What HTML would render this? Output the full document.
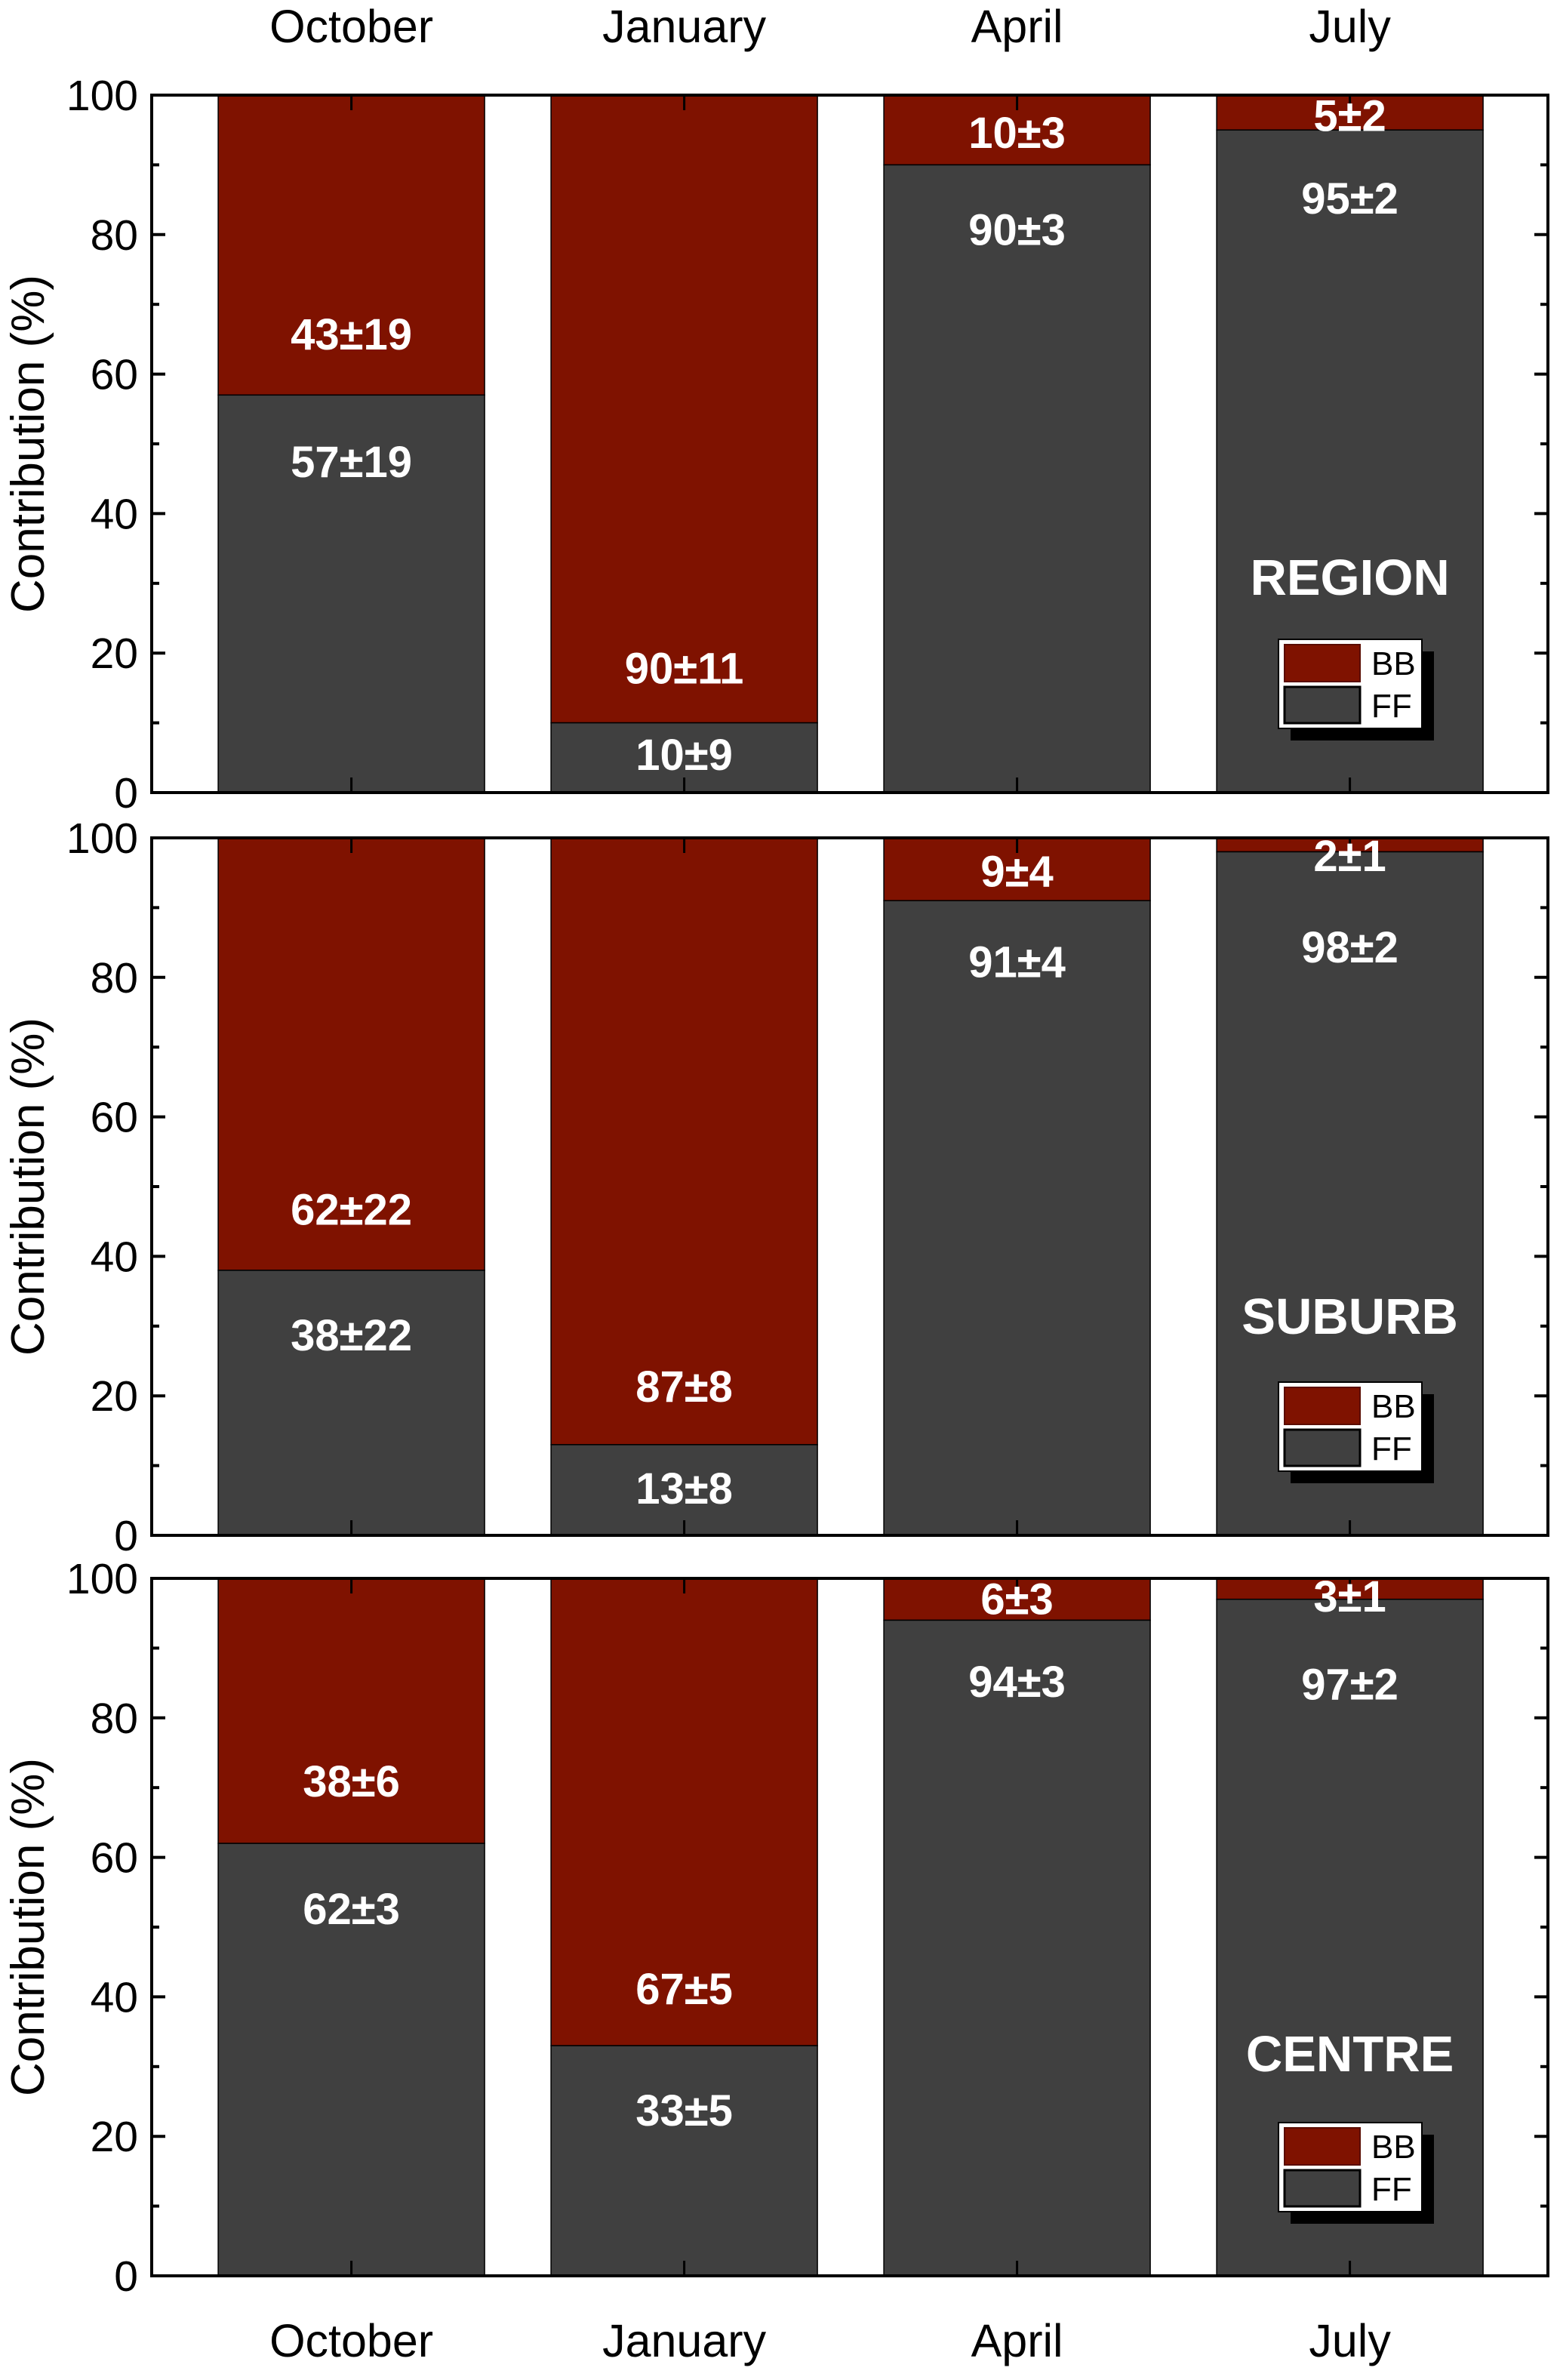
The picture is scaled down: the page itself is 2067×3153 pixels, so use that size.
<!DOCTYPE html>
<html><head><meta charset="utf-8"><style>
html,body{margin:0;padding:0;background:#fff}
svg{display:block}
text{font-family:"Liberation Sans Narrow","Liberation Sans",sans-serif}
</style></head><body>
<svg id="chart" width="2067" height="3153" viewBox="0 0 2067 3153" xmlns="http://www.w3.org/2000/svg"></svg>
<script>
const categories = ["October","January","April","July"];
const panelNames = ["REGION","SUBURB","CENTRE"];
const ffValues = [[57,10,90,95],[38,13,91,98],[62,33,94,97]];
const ffLabels = [["57±19","10±9","90±3","95±2"],["38±22","13±8","91±4","98±2"],["62±3","33±5","94±3","97±2"]];
const bbLabels = [["43±19","90±11","10±3","5±2"],["62±22","87±8","9±4","2±1"],["38±6","67±5","6±3","3±1"]];
const ffLabelPos = [[47.4,5.4,80.7,85.2],[28.7,6.7,82.2,84.3],[52.6,23.7,85.2,84.8]];
const bbLabelPos = [[65.7,17.8,94.6,97],[46.7,21.3,95.2,97.4],[70.9,41.1,97,97.4]];
const yTicks = [0,20,40,60,80,100];

const NS="http://www.w3.org/2000/svg";
const svg=document.getElementById('chart');
function mk(tag,attrs,parent){const e=document.createElementNS(NS,tag);for(const k in attrs)e.setAttribute(k,attrs[k]);(parent||svg).appendChild(e);return e;}
const L=201,R=2051,step=441,barW=353;
const panelTops=[126,1110,2091],ph=924;
const namePos=[262,267,271];
const BB="#7f1200",FF="#404040";
function xc(i){return L+(i+0.6)*step;}

panelTops.forEach((top,p)=>{
  const bot=top+ph;
  const y=v=>bot-v/100*ph;
  const g=mk('g',{});
  
  
  categories.forEach((c,i)=>{
    const x=xc(i)-barW/2, ff=ffValues[p][i];
    const rb=mk('rect',{x:x,y:y(100),width:barW,height:y(ff)-y(100),fill:BB,stroke:'#000','stroke-width':1.5},g);
    
    
    const rf=mk('rect',{x:x,y:y(ff),width:barW,height:y(0)-y(ff),fill:FF,stroke:'#000','stroke-width':1.5},g);
    
    
  });
  const fr=mk('rect',{x:L,y:top,width:R-L,height:ph,fill:'none',stroke:'#000','stroke-width':4},g);
  
  
  for(let v=0;v<=100;v+=10){
    const len=v%20===0?18:10;
    mk('line',{x1:L,x2:L+len,y1:y(v),y2:y(v),stroke:'#000','stroke-width':4},g);
    mk('line',{x1:R,x2:R-len,y1:y(v),y2:y(v),stroke:'#000','stroke-width':4},g);
  }
  categories.forEach((c,i)=>{
    mk('line',{x1:xc(i),x2:xc(i),y1:bot,y2:bot-20,stroke:'#000','stroke-width':3},g);
    mk('line',{x1:xc(i),x2:xc(i),y1:top,y2:top+20,stroke:'#000','stroke-width':3},g);
  });
  yTicks.forEach(v=>{
    const t=mk('text',{x:L-18,y:y(v)+20,'text-anchor':'end','font-size':57},g);
    t.textContent=v;
    
    
  });
  const yt=mk('text',{x:0,y:0,'text-anchor':'middle','font-size':62,transform:`translate(58,${top+ph/2}) rotate(-90)`},g);
  yt.textContent='Contribution (%)';
  
  
  categories.forEach((c,i)=>{
    const a=mk('text',{x:xc(i),y:y(bbLabelPos[p][i])+20,'text-anchor':'middle','font-size':58,'font-weight':'bold',fill:'#fff'},g);
    a.textContent=bbLabels[p][i];
    
    
    const b=mk('text',{x:xc(i),y:y(ffLabelPos[p][i])+20,'text-anchor':'middle','font-size':58,'font-weight':'bold',fill:'#fff'},g);
    b.textContent=ffLabels[p][i];
    
    
  });
  const pn=mk('text',{x:xc(3),y:top+ph-namePos[p],'text-anchor':'middle','font-size':67,'font-weight':'bold',fill:'#fff'},g);
  pn.textContent=panelNames[p];
  
  
  const lt=top+721;
  const lg=mk('g',{},g);
  
  
  mk('rect',{x:1710,y:lt+16,width:190,height:118,fill:'#000'},lg);
  mk('rect',{x:1694,y:lt,width:190,height:118,fill:'#fff',stroke:'#000','stroke-width':2},lg);
  const s1=mk('rect',{x:1702,y:lt+7,width:100,height:49,fill:BB,stroke:'#5a0c00','stroke-width':2},lg);
  
  
  const s2=mk('rect',{x:1702,y:lt+63,width:100,height:48,fill:FF,stroke:'#000','stroke-width':3},lg);
  
  
  const t1=mk('text',{x:1817,y:lt+47,'font-size':44},lg);t1.textContent='BB';
  
  
  const t2=mk('text',{x:1817,y:lt+103,'font-size':44},lg);t2.textContent='FF';
  
  
});
categories.forEach((c,i)=>{
  const t=mk('text',{x:xc(i),y:56,'text-anchor':'middle','font-size':61});
  t.textContent=c;
  
  
  const b=mk('text',{x:xc(i),y:3122,'text-anchor':'middle','font-size':61});
  b.textContent=c;
  
  
});
</script>
</body></html>
